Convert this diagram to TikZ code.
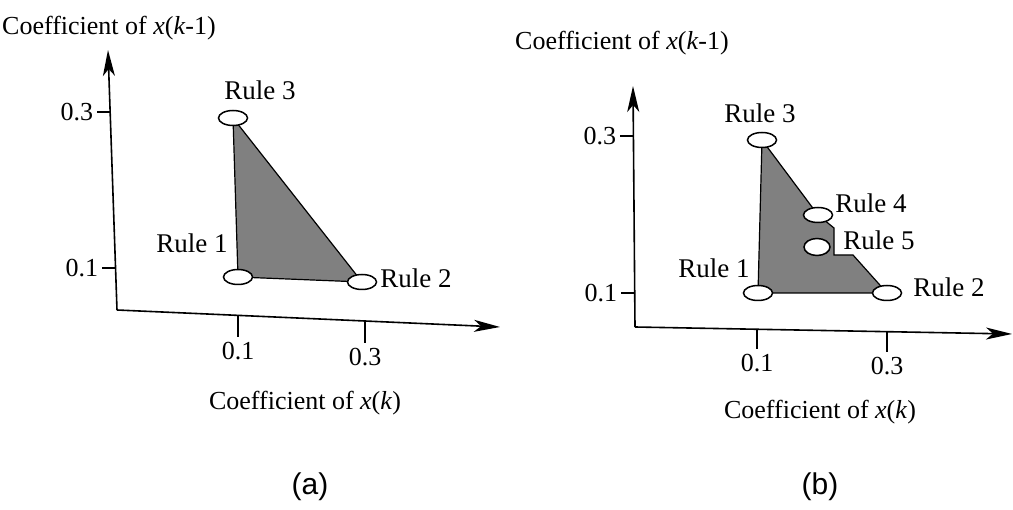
\documentclass[tikz,border=0pt]{standalone}
\usepackage{fontspec}
\setmainfont{Liberation Serif}
\newfontfamily\capfont{Liberation Sans}
\usetikzlibrary{arrows.meta,shapes.geometric}

\begin{document}
\begin{tikzpicture}
  [x=1pt,y=-1pt,
   axis/.style={line width=1.6pt,-{Stealth[length=26pt,width=12pt,inset=7pt]}},
   tick/.style={line width=1.2pt},
   rule oval/.style={ellipse,draw,line width=1.5pt,fill=white,inner sep=0pt,minimum width=29pt,minimum height=15pt},
   rule label/.style={font=\fontsize{27}{29}\selectfont},
   tick label/.style={font=\fontsize{26}{28}\selectfont},
   axis title/.style={font=\fontsize{26}{28}\selectfont},
   region/.style={draw,line width=1.2pt,fill=black!50},
   caption/.style={font=\capfont\fontsize{30}{32}\selectfont}]

\useasboundingbox (0,0) rectangle (1013,510);

% panel (a)
\coordinate (oa) at (117,310);
\coordinate (ya) at (108,50);
\coordinate (xa) at (500,327);
\coordinate (p1a) at (238,277);
\coordinate (p2a) at (362,282);
\coordinate (p3a) at (233,118);

\filldraw[region] (p3a) -- (p1a) -- (p2a) -- cycle;
\draw[axis] (oa) -- (ya);
\draw[axis] (oa) -- (xa);

\draw[tick] (110,112) -- (97,112) node[tick label,left=0pt] (y3a) {0.3};
\draw[tick] (115,268) -- (102,268) node[tick label,left=0pt] (y1a) {0.1};
\draw[tick] (238,315) -- (238,337) node[tick label,below=1pt] (x1a) {0.1};
\draw[tick] (365,321) -- (365,343) node[tick label,below=1pt] (x3a) {0.3};

\node[rule oval] (r1a) at (p1a) {};
\node[rule oval] (r2a) at (p2a) {};
\node[rule oval] (r3a) at (p3a) {};
\node[rule label] (l3a) at (260,90) {Rule 3};
\node[rule label] (l1a) at (192,243) {Rule 1};
\node[rule label] (l2a) at (416,278) {Rule 2};

\node[axis title] (ta) at (109,28) {Coefficient of \textit{x}(\textit{k}-1)};
\node[axis title] (sa) at (305,403) {Coefficient of \textit{x}(\textit{k})};
\node[caption] (ca) at (310,487) {(a)};

% panel (b)
\coordinate (ob) at (635,327);
\coordinate (yb) at (633,86);
\coordinate (xb) at (1012,334);
\coordinate (p1b) at (758,293);
\coordinate (p2b) at (887,293);
\coordinate (p3b) at (762,140);
\coordinate (p4b) at (818,215);
\coordinate (p5b) at (817,247);

\filldraw[region] (p3b) -- (p1b) -- (p2b) -- (853,255) -- (834,255)
  -- (834,228) -- (p4b) -- cycle;
\draw[axis] (ob) -- (yb);
\draw[axis] (ob) -- (xb);

\draw[tick] (633,136) -- (620,136) node[tick label,left=0pt] (y3b) {0.3};
\draw[tick] (634,293) -- (621,293) node[tick label,left=0pt] (y1b) {0.1};
\draw[tick] (757,329) -- (757,349) node[tick label,below=1pt] (x1b) {0.1};
\draw[tick] (887,332) -- (887,352) node[tick label,below=1pt] (x3b) {0.3};

\node[rule oval] (r1b) at (p1b) {};
\node[rule oval] (r2b) at (p2b) {};
\node[rule oval] (r3b) at (p3b) {};
\node[rule oval] (r4b) at (p4b) {};
\node[rule oval,minimum width=26pt,minimum height=17pt] (r5b) at (p5b) {};
\node[rule label] (l3b) at (760,113) {Rule 3};
\node[rule label] (l4b) at (871,203) {Rule 4};
\node[rule label] (l5b) at (879,240) {Rule 5};
\node[rule label] (l1b) at (714,268) {Rule 1};
\node[rule label] (l2b) at (949,287) {Rule 2};

\node[axis title] (tb) at (622,43) {Coefficient of \textit{x}(\textit{k}-1)};
\node[axis title] (sb) at (820,412) {Coefficient of \textit{x}(\textit{k})};
\node[caption] (cb) at (820,487) {(b)};

\end{tikzpicture}
\end{document}
